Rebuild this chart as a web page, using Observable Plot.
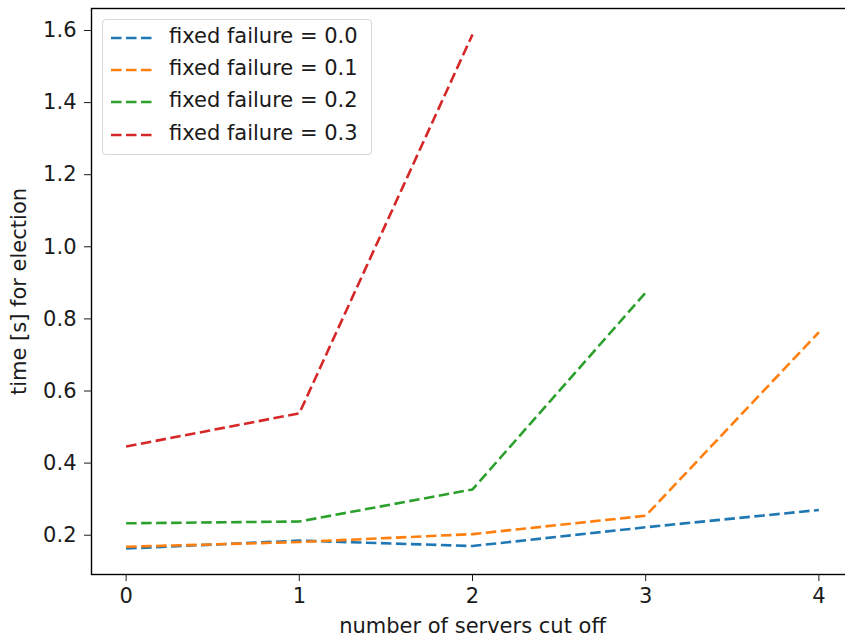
<!DOCTYPE html>
<html>
<head>
<meta charset="utf-8">
<script src="https://cdn.jsdelivr.net/npm/d3@7"></script>
<script src="https://cdn.jsdelivr.net/npm/@observablehq/plot@0.6"></script>
<style>
  html, body { margin: 0; padding: 0; background: white; overflow: hidden; }
  #wrap { position: relative; width: 845px; height: 641px; font-family: "DejaVu Sans", sans-serif; }
  #legend { position: absolute; left: 102px; top: 19px; width: 270px; height: 136px;
    border: 1px solid #d6d6d6; border-radius: 4px; background: rgba(255,255,255,0.8); box-sizing: border-box; }
  .row { position: absolute; left: 0; height: 32px; }
  .row svg { position: absolute; left: 8px; }
  .row span { position: absolute; left: 66px; font-size: 21px; white-space: nowrap; color: #1a1a1a; line-height: 1; top: 50%; transform: translateY(-55%); }
</style>
</head>
<body>
<div id="wrap"></div>
<script>
const servers = [0, 1, 2, 3, 4];
const failure00 = [0.163, 0.185, 0.170, 0.222, 0.270];
const failure01 = [0.168, 0.181, 0.203, 0.254, 0.763];
const failure02 = [0.233, 0.238, 0.327, 0.873];
const failure03 = [0.446, 0.538, 1.589];
const seriesLabels = ["fixed failure = 0.0", "fixed failure = 0.1", "fixed failure = 0.2", "fixed failure = 0.3"];
const colors = ["#1f77b4", "#ff7f0e", "#2ca02c", "#d62728"];
const yTicks = [0.2, 0.4, 0.6, 0.8, 1.0, 1.2, 1.4, 1.6];

const allSeries = [failure00, failure01, failure02, failure03];
const rows = [];
allSeries.forEach((vals, si) => {
  vals.forEach((v, i) => rows.push({x: servers[i], y: v, s: seriesLabels[si]}));
});

const dash = "10.5,4.5";
const chart = Plot.plot({
  width: 845,
  height: 641,
  marginLeft: 91,
  marginRight: -8,
  marginTop: 8,
  marginBottom: 67,
  style: {fontFamily: "DejaVu Sans, sans-serif", fontSize: "21px", color: "#1a1a1a", background: "white", overflow: "visible"},
  x: {domain: [-0.2, 4.2]},
  y: {domain: [0.091, 1.661]},
  color: {domain: seriesLabels, range: colors},
  marks: [
    Plot.line(rows, {x: "x", y: "y", z: "s", stroke: "s", strokeWidth: 2.6, strokeDasharray: dash, strokeLinecap: "butt", strokeLinejoin: "round"}),
    Plot.frame({stroke: "black", strokeWidth: 1.4}),
    Plot.axisX({ticks: servers, tickFormat: d3.format("d"), tickSize: 7, tickPadding: 7, fontSize: 21,
      label: "number of servers cut off", labelAnchor: "center", labelOffset: 58, labelArrow: "none"}),
    Plot.axisY({ticks: yTicks, tickFormat: d3.format(".1f"), tickSize: 7, tickPadding: 8, fontSize: 21,
      label: "time [s] for election", labelAnchor: "center", labelOffset: 80, labelArrow: "none"})
  ]
});
document.getElementById("wrap").appendChild(chart);

const legend = document.createElement("div");
legend.id = "legend";
seriesLabels.forEach((lab, i) => {
  const r = document.createElement("div");
  r.className = "row";
  r.style.top = (1.5 + i * 32.4) + "px";
  r.style.width = "270px";
  r.innerHTML = `<svg width="44" height="8" style="top:12px"><line x1="0" y1="4" x2="44" y2="4" stroke="${colors[i]}" stroke-width="2.6" stroke-dasharray="${dash}"/></svg><span>${lab}</span>`;
  legend.appendChild(r);
});
document.getElementById("wrap").appendChild(legend);
</script>
</body>
</html>
